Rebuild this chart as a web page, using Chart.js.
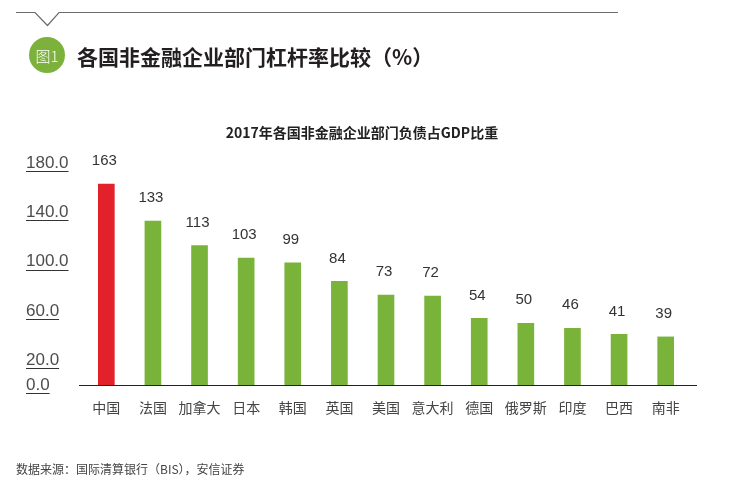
<!DOCTYPE html>
<html>
<head>
<meta charset="utf-8">
<script src="https://cdn.jsdelivr.net/npm/chart.js@4"></script>
<style>
  html, body { margin: 0; padding: 0; background: #fff; }
  #wrap { width: 736px; height: 490px; position: relative; }
</style>
</head>
<body>
<div id="wrap"><canvas id="myChart" width="736" height="490"></canvas></div>
<script>
const ctx = document.getElementById('myChart');

var countries = ['中国', '法国', '加拿大', '日本', '韩国', '英国', '美国', '意大利', '德国', '俄罗斯', '印度', '巴西', '南非'];
var debtRatio = [163, 133, 113, 103, 99, 84, 73, 72, 54, 50, 46, 41, 39];
var yTicks = [0, 20, 60, 100, 140, 180];

var cjk = "'Noto Sans CJK SC', 'Noto Sans', sans-serif";
var latin = "'Liberation Sans', Arial, sans-serif";

var barColors = countries.map(function (c, i) {
  return i === 0 ? '#e3212b' : '#7ab33a';
});

// header, title, source and the baseline
var decor = {
  id: 'decor',
  beforeDatasetsDraw: function (chart) {
    var c = chart.ctx;
    var y = chart.scales.y.getPixelForValue(0);
    c.save();
    c.strokeStyle = '#222';
    c.lineWidth = 1;
    c.beginPath();
    c.moveTo(79, Math.round(y) + 0.5);
    c.lineTo(697, Math.round(y) + 0.5);
    c.stroke();
    c.restore();
  },
  afterDraw: function (chart) {
    var c = chart.ctx;
    c.save();
    // top rule with notch
    c.strokeStyle = '#6b6b6b';
    c.lineWidth = 1.2;
    c.beginPath();
    c.moveTo(16, 12.5);
    c.lineTo(35, 12.5);
    c.lineTo(47.5, 25.5);
    c.lineTo(59, 12.5);
    c.lineTo(618, 12.5);
    c.stroke();

    // green badge
    c.fillStyle = '#7cb23c';
    c.beginPath();
    c.arc(47, 55, 18, 0, Math.PI * 2);
    c.fill();
    c.fillStyle = '#fff';
    c.font = '300 15px ' + cjk;
    c.textAlign = 'center';
    c.textBaseline = 'middle';
    c.fillText('图1', 47, 56);

    // heading
    c.fillStyle = '#231f20';
    c.font = 'bold 21px ' + cjk;
    c.textAlign = 'left';
    c.fillText('各国非金融企业部门杠杆率比较（%）', 77, 57);

    // chart title
    c.font = 'bold 14px ' + cjk;
    c.textAlign = 'center';
    c.fillStyle = '#222';
    c.fillText('2017年各国非金融企业部门负债占GDP比重', 362, 133);

    // source
    c.font = '12px ' + cjk;
    c.textAlign = 'left';
    c.fillStyle = '#444';
    c.fillText('数据来源：国际清算银行（BIS），安信证券', 16, 469);

    // value labels above bars
    var meta = chart.getDatasetMeta(0);
    c.font = '15px ' + latin;
    c.textAlign = 'center';
    c.fillStyle = '#333';
    meta.data.forEach(function (bar, i) {
      c.fillText(String(debtRatio[i]), bar.x - 2, bar.y - 23);
    });

    // underlines under y tick labels
    var ys = chart.scales.y;
    c.font = '17px ' + latin;
    c.strokeStyle = '#333';
    c.lineWidth = 1;
    ys.ticks.forEach(function (t) {
      var label = t.value.toFixed(1);
      var w = c.measureText(label).width;
      var py = Math.round(ys.getPixelForValue(t.value) + 8) + 0.5;
      c.beginPath();
      c.moveTo(26, py);
      c.lineTo(26 + w, py);
      c.stroke();
    });
    c.restore();
  }
};

var data = {
  labels: countries,
  datasets: [{
    data: debtRatio,
    backgroundColor: barColors,
    barThickness: 16
  }]
};

var config = {
  type: 'bar',
  data: data,
  plugins: [decor],
  options: {
    responsive: false,
    animation: false,
    devicePixelRatio: 1,
    layout: {
      padding: { left: 26, top: 163, right: 47, bottom: 0 }
    },
    plugins: {
      legend: { display: false },
      tooltip: { enabled: false }
    },
    scales: {
      x: {
        grid: { display: false, drawTicks: false },
        border: { display: false },
        ticks: {
          color: '#444',
          font: { family: cjk, size: 14 },
          padding: 14,
          maxRotation: 0,
          autoSkip: false
        },
        afterFit: function (scale) { scale.height = 105; }
      },
      y: {
        min: 0,
        max: 180,
        grid: { display: false, drawTicks: false },
        border: { display: false },
        afterBuildTicks: function (scale) {
          scale.ticks = yTicks.map(function (v) { return { value: v }; });
        },
        afterFit: function (scale) { scale.width = 57; },
        ticks: {
          crossAlign: 'far',
          color: '#4d4d4d',
          font: { family: latin, size: 17 },
          padding: 0,
          callback: function (v) { return Number(v).toFixed(1); }
        }
      }
    }
  }
};

var chart = new Chart(ctx, config);
</script>
</body>
</html>
